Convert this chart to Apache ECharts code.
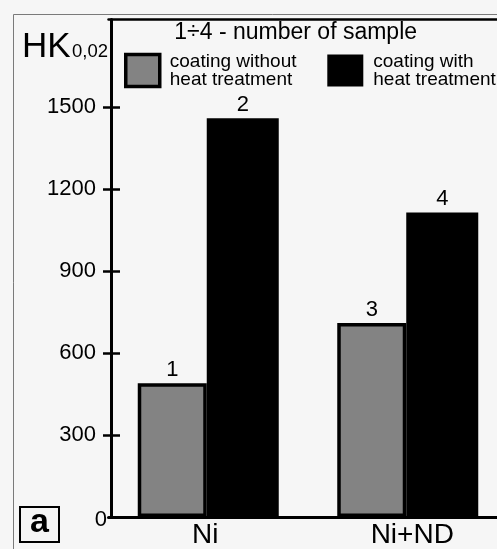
<!DOCTYPE html>
<html><head><meta charset="utf-8">
<script src="https://cdn.jsdelivr.net/npm/echarts@6/dist/echarts.min.js"></script>
<style>html,body{margin:0;padding:0;background:#f6f6f6;overflow:hidden}#c{width:530px;height:549px}</style>
</head><body><div id="c"></div>
<script>
const categories = ['Ni', 'Ni+ND'];
const seriesNames = ['coating without\nheat treatment', 'coating with\nheat treatment'];
const withoutHeat = [490, 710];
const withHeat = [1460, 1115];
const sampleWithout = ['1', '3'];
const sampleWith = ['2', '4'];
const yLabelValues = [0, 300, 600, 900, 1200, 1500];
const yTickValues = [300, 600, 900, 1200, 1500];
const yMax = 1821;
const legendTitle = '1÷4 - number of sample';
const axisNameMain = 'HK';
const axisNameSub = '0,02';
const panelLetter = 'a';

const F = "'Liberation Sans', Arial, Helvetica, sans-serif";
const chart = echarts.init(document.getElementById('c'), null, {renderer: 'canvas'});

const option = {
  animation: false,
  backgroundColor: '#f6f6f6',
  textStyle: {fontFamily: F},
  grid: {left: 108.5, top: 19.5, width: 399, bottom: 31.5},
  legend: [
    {
      data: [seriesNames[0]], left: 124, top: 52, padding: 0, selectedMode: false,
      itemWidth: 34, itemHeight: 32, icon: 'rect',
      itemStyle: {borderColor: '#000', borderWidth: 3.5},
      textStyle: {fontSize: 19, lineHeight: 18, color: '#000', fontFamily: F, padding: [0, 0, 0, 5]}
    },
    {
      data: [seriesNames[1]], left: 327.3, top: 52, padding: 0, selectedMode: false,
      itemWidth: 36, itemHeight: 32, icon: 'rect',
      itemStyle: {borderWidth: 0},
      textStyle: {fontSize: 19, lineHeight: 18, color: '#000', fontFamily: F, padding: [0, 0, 0, 5]}
    }
  ],
  xAxis: [
    {
      type: 'category', data: categories, position: 'bottom',
      axisLine: {show: true, lineStyle: {color: '#000', width: 3}},
      axisTick: {show: false},
      axisLabel: {
        margin: 4, fontSize: 28, color: '#000', fontFamily: F,
        formatter: (v, i) => i === 0 ? '{l|' + v + '}' : '{r|' + v + '}',
        rich: {
          l: {fontSize: 28, fontFamily: F, color: '#000', padding: [0, 6, 0, 0]},
          r: {fontSize: 28, fontFamily: F, color: '#000', padding: [0, 0, 0, 9]}
        }
      },
      splitLine: {show: false}
    },
    {
      type: 'category', data: categories, position: 'top',
      axisLine: {show: true, onZero: false, lineStyle: {color: '#000', width: 2.5}},
      axisTick: {show: false}, axisLabel: {show: false}, splitLine: {show: false}
    }
  ],
  yAxis: [
    {
      type: 'value', min: 0, max: yMax, position: 'left', offset: -3,
      axisLine: {show: true, onZero: false, lineStyle: {color: '#000', width: 3}},
      axisTick: {show: true, inside: false, length: 8.5, customValues: yTickValues,
        lineStyle: {color: '#000', width: 2.5}},
      axisLabel: {
        customValues: yLabelValues, margin: 4.5, color: '#000', fontSize: 22, fontFamily: F,
        formatter: v => v === 0 ? '{z|0}' : '{n|' + v + '}',
        rich: {
          n: {fontSize: 22, fontFamily: F, color: '#000', padding: [0, 11, 0, 0]},
          z: {fontSize: 22, fontFamily: F, color: '#000', padding: [5, 0, 0, 0]}
        }
      },
      splitLine: {show: false}
    },
    {
      type: 'value', min: 0, max: yMax, position: 'left', offset: -3,
      axisLine: {show: false},
      axisTick: {show: true, inside: true, length: 8.5, customValues: yTickValues,
        lineStyle: {color: '#000', width: 2.5}},
      axisLabel: {show: false}, splitLine: {show: false}
    }
  ],
  series: [
    {
      name: seriesNames[0], type: 'bar', xAxisIndex: 0, yAxisIndex: 0,
      data: withoutHeat, barWidth: 69, barGap: '0%',
      itemStyle: {color: '#838383', borderColor: '#000', borderWidth: 3.5},
      label: {show: true, position: 'top', distance: 2, fontSize: 22, color: '#000', fontFamily: F,
        formatter: p => sampleWithout[p.dataIndex]}
    },
    {
      name: seriesNames[1], type: 'bar', xAxisIndex: 0, yAxisIndex: 0,
      data: withHeat, barWidth: 72, barGap: '0%',
      itemStyle: {color: '#000', borderWidth: 0},
      label: {show: true, position: 'top', distance: 2, fontSize: 22, color: '#000', fontFamily: F,
        formatter: p => sampleWith[p.dataIndex]}
    }
  ],
  graphic: [
    {type: 'rect', silent: true, shape: {x: 13.5, y: 14.5, width: 600, height: 600},
      style: {fill: 'none', stroke: '#7a7a7a', lineWidth: 1}},
    {type: 'text', silent: true, x: 22, y: 47.5,
      style: {text: axisNameMain, fontSize: 35, fontFamily: F, fill: '#000', verticalAlign: 'middle'}},
    {type: 'text', silent: true, x: 72, y: 52,
      style: {text: axisNameSub, fontSize: 18.5, fontFamily: F, fill: '#000', verticalAlign: 'middle'}},
    {type: 'text', silent: true, x: 295.7, y: 33,
      style: {text: legendTitle, fontSize: 23, fontFamily: F, fill: '#000', align: 'center', verticalAlign: 'middle'}},
    {type: 'rect', silent: true, shape: {x: 20, y: 507, width: 39, height: 35},
      style: {fill: 'none', stroke: '#000', lineWidth: 2}},
    {type: 'text', silent: true, x: 39.5, y: 523,
      style: {text: panelLetter, fontSize: 34, fontWeight: 'bold', fontFamily: F, fill: '#000', align: 'center', verticalAlign: 'middle'}}
  ]
};
chart.setOption(option);
</script>
</body></html>
